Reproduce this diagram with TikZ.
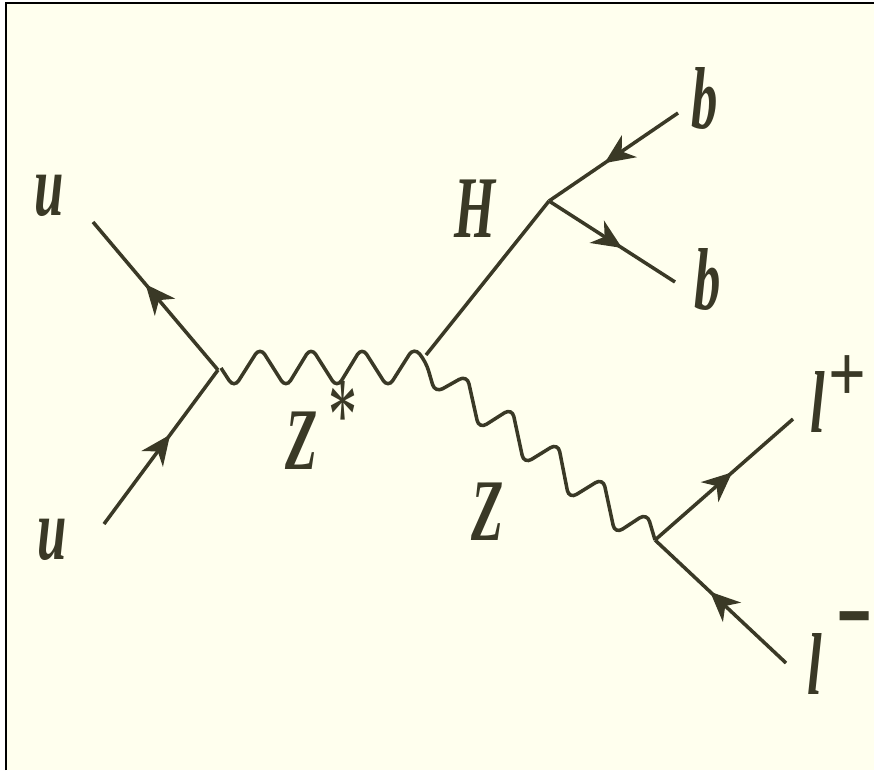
\documentclass[tikz,border=0pt]{standalone}
\usepackage{fontspec}
\setmainfont{Liberation Serif}
\usetikzlibrary{arrows.meta,decorations.markings}
\definecolor{paper}{HTML}{FFFFEE}
\definecolor{ink}{HTML}{3A3926}
\tikzset{
 label/.style = {inner sep = 0, text = ink, font = \fontsize{25}{25}\selectfont\bfseries\itshape, xscale = .6, transform shape},
 charge/.style = {inner sep = 0, text = ink, font = \fontsize{21}{21}\selectfont\bfseries, xscale = .9, yscale = 1.1, transform shape},
 star/.style = {inner sep = 0, text = ink, font = \fontsize{30}{30}\selectfont, xscale = .55, transform shape},
 quark/.style = {color = ink, line width = 1pt},
 wave/.style = {color = ink, line width = 1pt, rounded corners = 2.5pt},
 fermion/.style = {quark, postaction = {decorate}, decoration = {markings, mark = at position #1 with {\arrow{Stealth[length = 8.5pt, width = 7.5pt, inset = 2.6pt]}}}}
}
\begin{document}
\begin{tikzpicture}[x = .01cm, y = -.01cm]
\useasboundingbox (0,0) rectangle (874,770);
\fill [paper] (6,3) rectangle (874,770);
\draw [black, line width = .8pt] (6,770) -- (6,3) -- (874,3);
\coordinate (uin) at (104,524);
\coordinate (uout) at (93,222);
\coordinate (vleft) at (218,370);
\coordinate (vmid) at (426,355);
\coordinate (vhiggs) at (549,201);
\coordinate (vlep) at (655,540);
\coordinate (btop) at (678,113);
\coordinate (bbot) at (675,282);
\coordinate (lplus) at (793,419);
\coordinate (lminus) at (786,663);
\draw [fermion = .58] (vleft) -- (uout);
\draw [fermion = .58] (uin) -- (vleft);
\draw [quark] (vmid) -- (vhiggs);
\draw [fermion = .57] (btop) -- (vhiggs);
\draw [fermion = .58] (vhiggs) -- (bbot);
\draw [fermion = .56] (vlep) -- (lplus);
\draw [fermion = .58] (lminus) -- (vlep);
\draw [wave] (221,368) -- (234,388) -- (260,347) -- (286,388) -- (311,347) -- (337,388) -- (362,347) -- (388,388) -- (414,347) -- (426,362) -- (435,393) -- (467,375) -- (479,429) -- (512,408) -- (524,464) -- (558,443) -- (569,499) -- (603,478) -- (615,534) -- (647,513) -- (vlep);
\node [label] (ua) at (49,196) {u};
\node [label] (ub) at (52,540) {u};
\node [label] (ba) at (705,98) {b};
\node [label] (bb) at (708,279) {b};
\node [label] (hh) at (475,209) {H};
\node [label] (zs) at (302,441) {Z};
\node [label] (zz) at (488,512) {Z};
\node [label] (la) at (818,402) {l};
\node [label] (lb) at (815,664) {l};
\node [star] (st) at (343,416) {*};
\node [charge] (pl) at (847,379) {+};
\node [charge, xscale = .85, yscale = 1.6] (mi) at (855,629) {–};
\end{tikzpicture}
\end{document}
